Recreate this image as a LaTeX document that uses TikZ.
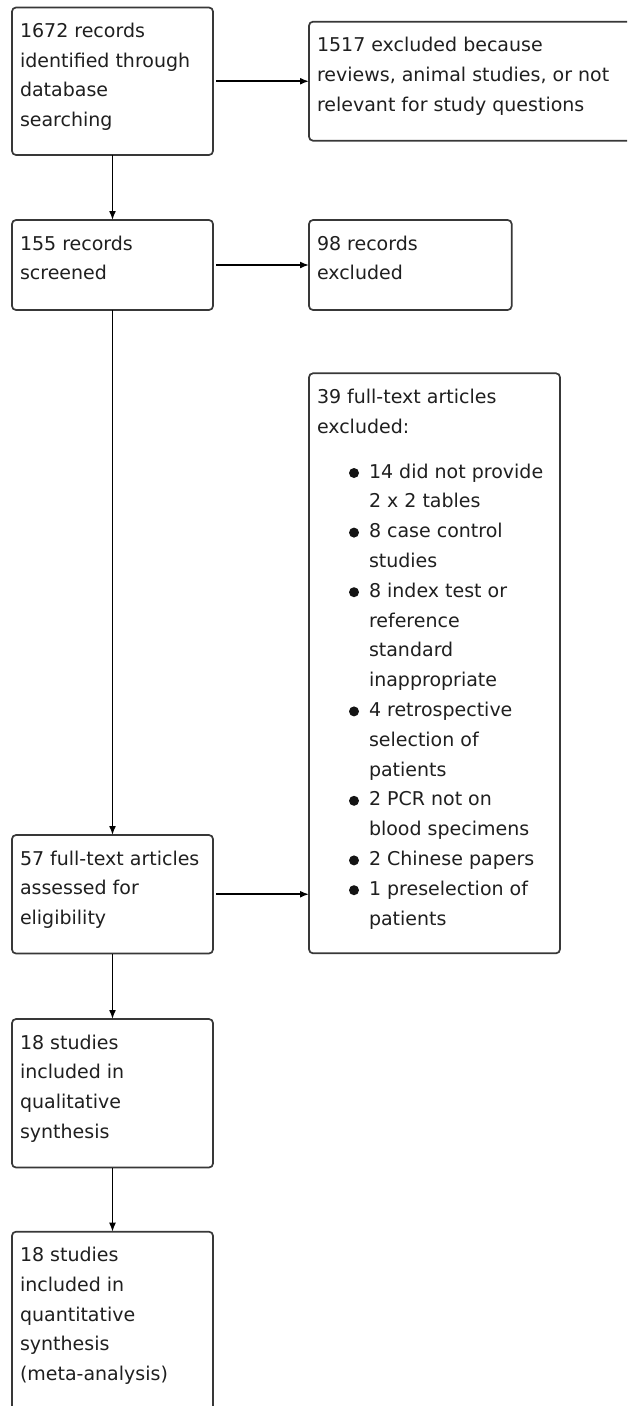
\documentclass[tikz,border=0pt]{standalone}
\usepackage{fontspec}
\setmainfont{DejaVu Sans}
\usetikzlibrary{arrows.meta}
\begin{document}
\begin{tikzpicture}[x=1pt,y=-1pt,
  flowbox/.style={draw=black!78, line width=1.7pt, rounded corners=4pt, rectangle,
    inner sep=0pt, outer sep=0pt, anchor=north west},
  boxtext/.style={anchor=north west, inner sep=0pt, outer sep=0pt, align=left,
    text=black!88, font=\fontsize{19}{29.7}\selectfont},
  listtext/.style={boxtext, font=\fontsize{19}{29.8}\selectfont},
  flowarrow/.style={line width=1.6pt, draw=black, -{Latex[length=9pt,width=7pt]}},
  bulletdot/.style={fill=black!92}]
\useasboundingbox (0,0) rectangle (627,1406);
\clip (0,0) rectangle (627,1406);
\fill[white] (0,0) rectangle (627,1406);

% boxes
\node[flowbox, minimum width=201pt, minimum height=147.5pt] (A) at (12,7.5) {};
\node[flowbox, minimum width=331pt, minimum height=119pt] (B) at (309,21.7) {};
\node[flowbox, minimum width=201pt, minimum height=90pt] (C) at (12,220) {};
\node[flowbox, minimum width=202.7pt, minimum height=90pt] (D) at (309,220) {};
\node[flowbox, minimum width=251pt, minimum height=580pt] (E) at (309,373.3) {};
\node[flowbox, minimum width=201pt, minimum height=118.5pt] (F) at (12,835) {};
\node[flowbox, minimum width=201pt, minimum height=148.5pt] (G) at (12,1019) {};
\node[flowbox, minimum width=201pt, minimum height=230pt] (H) at (12,1231.7) {};

% texts
\node[boxtext] (At) at (20,22.5) {\rule{0pt}{15pt}1672 records\\identified through\\database\\searching};
\node[boxtext] (Bt) at (317,36.7) {\rule{0pt}{15pt}1517 excluded because\\reviews, animal studies, or not\\relevant for study questions};
\node[boxtext] (Ct) at (20,235) {\rule{0pt}{15pt}155 records\\screened};
\node[boxtext] (Dt) at (317,235) {\rule{0pt}{15pt}98 records\\excluded};
\node[boxtext] (Et) at (317,388.3) {\rule{0pt}{15pt}39 full-text articles\\excluded:};
\node[listtext] (El) at (369,463) {\rule{0pt}{15pt}14 did not provide\\2 x 2 tables\\8 case control\\studies\\8 index test or\\reference\\standard\\inappropriate\\4 retrospective\\selection of\\patients\\2 PCR not on\\blood specimens\\2 Chinese papers\\1 preselection of\\patients};
\node[boxtext] (Ft) at (20,850) {\rule{0pt}{15pt}57 full-text articles\\assessed for\\eligibility};
\node[boxtext] (Gt) at (20,1034) {\rule{0pt}{15pt}18 studies\\included in\\qualitative\\synthesis};
\node[boxtext] (Ht) at (20,1246.7) {\rule{0pt}{15pt}18 studies\\included in\\quantitative\\synthesis\\(meta-analysis)};

% bullets
\foreach \k in {0,2,4,8,11,13,14}
  \fill[bulletdot] (354,{473+29.8*\k}) circle[radius=5pt];

% connectors
\draw[flowarrow, shorten <=3pt] (A.east) -- (A.east -| B.west);
\draw[flowarrow, shorten <=3pt] (C.east) -- (C.east -| D.west);
\draw[flowarrow, shorten <=3pt] (F.east) -- (F.east -| E.west);
\draw[flowarrow] (A.south) -- (C.north);
\draw[flowarrow] (C.south) -- (F.north);
\draw[flowarrow] (F.south) -- (G.north);
\draw[flowarrow] (G.south) -- (H.north);
\end{tikzpicture}
\end{document}
